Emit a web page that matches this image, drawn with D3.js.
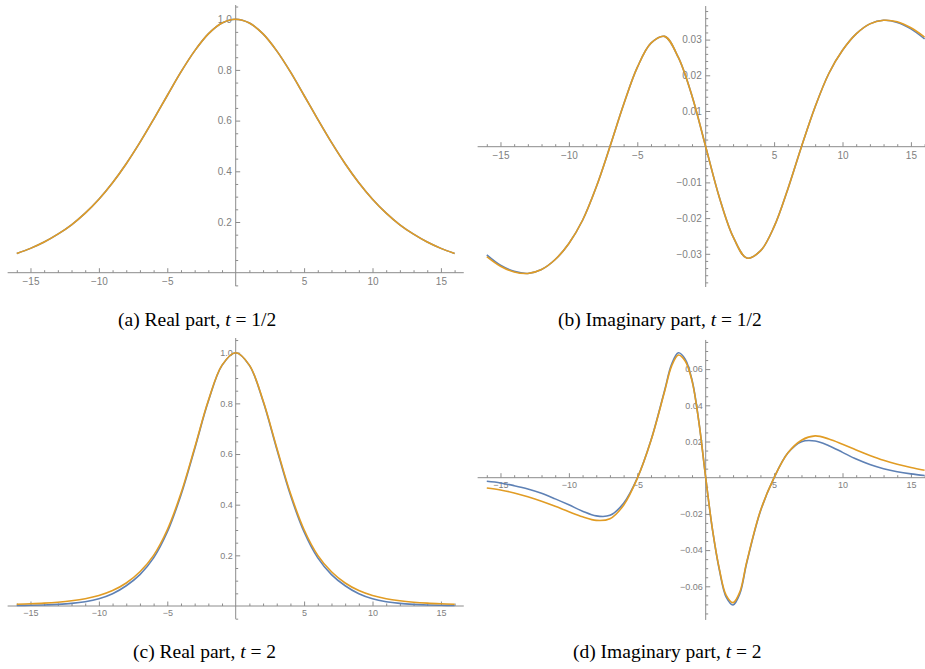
<!DOCTYPE html>
<html>
<head>
<meta charset="utf-8">
<script src="https://cdnjs.cloudflare.com/ajax/libs/d3/7.8.5/d3.min.js"></script>
<style>
  body { margin: 0; background: #fff; }
  .axis-line { stroke: #8c8c8c; stroke-width: 1; }
  .tick line { stroke: #8c8c8c; }
  .tick text { fill: #808080; font-family: 'Liberation Sans', Arial, sans-serif; }
  .curve { fill: none; stroke-width: 1.6; stroke-linejoin: round; }
  .caption { font-family: 'Liberation Serif', 'Times New Roman', serif; fill: #000; }
</style>
</head>
<body>
<svg id="fig" width="925" height="669"></svg>
<script>
// x grid used by panels a, b, c
var xGrid = [-16, -15, -14, -13, -12, -11, -10, -9, -8, -7, -6, -5, -4, -3, -2, -1, 0,
             1, 2, 3, 4, 5, 6, 7, 8, 9, 10, 11, 12, 13, 14, 15, 16];
// panel d has a steep middle, so it gets extra points near 0
var xGridD = [-16, -15, -14, -13, -12, -11, -10, -9, -8, -7, -6, -5, -4, -3,
              -2.5, -2, -1.5, -1, -0.5, 0, 0.5, 1, 1.5, 2, 2.5,
              3, 4, 5, 6, 7, 8, 9, 10, 11, 12, 13, 14, 15, 16];

// (a) real part, t = 1/2
var realHalfBlue = [0.076, 0.096, 0.121, 0.152, 0.189, 0.235, 0.290, 0.355, 0.430, 0.514, 0.605, 0.699, 0.792, 0.875, 0.942, 0.985, 1.000,
                    0.985, 0.942, 0.875, 0.792, 0.699, 0.605, 0.514, 0.430, 0.355, 0.290, 0.235, 0.189, 0.152, 0.121, 0.096, 0.076];
var realHalfOrange = [0.076, 0.096, 0.121, 0.152, 0.189, 0.235, 0.290, 0.355, 0.430, 0.514, 0.605, 0.699, 0.792, 0.875, 0.942, 0.985, 1.000,
                      0.985, 0.942, 0.875, 0.792, 0.699, 0.605, 0.514, 0.430, 0.355, 0.290, 0.235, 0.189, 0.152, 0.121, 0.096, 0.076];

// (b) imaginary part, t = 1/2
var imagHalfBlue = [-0.0303, -0.0332, -0.0349, -0.0355, -0.0344, -0.0316, -0.0271, -0.0206, -0.0113, 0.0000, 0.0118, 0.0222, 0.0290, 0.0309, 0.0250, 0.0142, 0.0000,
                    -0.0142, -0.0252, -0.0312, -0.0292, -0.0224, -0.0119, 0.0000, 0.0112, 0.0205, 0.0270, 0.0316, 0.0344, 0.0354, 0.0348, 0.0330, 0.0302];
var imagHalfOrange = [-0.0308, -0.0335, -0.0351, -0.0355, -0.0344, -0.0316, -0.0271, -0.0206, -0.0113, 0.0000, 0.0118, 0.0222, 0.0290, 0.0309, 0.0250, 0.0142, 0.0000,
                      -0.0142, -0.0252, -0.0312, -0.0292, -0.0224, -0.0119, 0.0000, 0.0112, 0.0205, 0.0270, 0.0316, 0.0344, 0.0354, 0.0350, 0.0333, 0.0307];

// (c) real part, t = 2
var realTwoBlue = [0.0019, 0.0028, 0.0042, 0.0065, 0.0103, 0.0170, 0.0286, 0.0485, 0.080, 0.124, 0.190, 0.292, 0.438, 0.620, 0.808, 0.950, 1.000,
                   0.950, 0.808, 0.620, 0.438, 0.292, 0.190, 0.124, 0.080, 0.0485, 0.0286, 0.0170, 0.0103, 0.0065, 0.0042, 0.0028, 0.0019];
var realTwoOrange = [0.0067, 0.0087, 0.0113, 0.0151, 0.0206, 0.0287, 0.0412, 0.0608, 0.0907, 0.135, 0.200, 0.301, 0.445, 0.625, 0.811, 0.951, 1.000,
                     0.951, 0.811, 0.625, 0.445, 0.301, 0.200, 0.135, 0.0907, 0.0608, 0.0412, 0.0287, 0.0206, 0.0151, 0.0113, 0.0087, 0.0067];

// (d) imaginary part, t = 2
var imagTwoBlue = [-0.0020, -0.0029, -0.0044, -0.0062, -0.0086, -0.0117, -0.0150, -0.0185, -0.0211, -0.0208, -0.0141, -0.0002, 0.0207, 0.0483,
                   0.0625, 0.0690, 0.0655, 0.0540, 0.0310, 0.0000, -0.0290, -0.0510, -0.0660, -0.0703, -0.0640,
                   -0.0470, -0.0185, 0.0000, 0.0136, 0.0199, 0.0203, 0.0177, 0.0140, 0.0103, 0.0073, 0.0050, 0.0033, 0.0021, 0.0012];
var imagTwoOrange = [-0.0057, -0.0068, -0.0084, -0.0105, -0.0130, -0.0158, -0.0188, -0.0216, -0.0236, -0.0227, -0.0152, -0.0004, 0.0205, 0.0478,
                     0.0615, 0.0678, 0.0645, 0.0535, 0.0308, 0.0000, -0.0288, -0.0505, -0.0650, -0.0690, -0.0630,
                     -0.0465, -0.0183, 0.0000, 0.0136, 0.0207, 0.0231, 0.0214, 0.0185, 0.0153, 0.0123, 0.0096, 0.0074, 0.0056, 0.0041];

// tick labels
var xTicks = [-15, -10, -5, 5, 10, 15];
var yTicksReal = [0.2, 0.4, 0.6, 0.8, 1.0];
var yTicksImagHalf = [-0.03, -0.02, -0.01, 0.01, 0.02, 0.03];
var yTicksImagTwo = [-0.06, -0.04, -0.02, 0.02, 0.04, 0.06];

var captions = [
    { label: '(a) Real part, ', t: '1/2' },
    { label: '(b) Imaginary part, ', t: '1/2' },
    { label: '(c) Real part, ', t: '2' },
    { label: '(d) Imaginary part, ', t: '2' }
];

var blue = '#5e81b5', orange = '#e19c24';

var svg = d3.select('#fig');

var panels = [
    { xs: xGrid, blue: realHalfBlue, orange: realHalfOrange,
      xRange: [16.8, 454.6], xExt: [-16.67, 16.67],
      yDomain: [0, 1], yRange: [272.7, 19.2], yExt: [-0.053, 1.056],
      yTicks: yTicksReal, yMinorStep: 0.05, yFmt: '.1f', font: 10, xPad: 5.5, yPad: 4,
      cap: captions[0], capX: 118, capY: 326 },
    { xs: xGrid, blue: imagHalfBlue, orange: imagHalfOrange,
      xRange: [486.8, 924.6], xExt: [-16.67, 17],
      yDomain: [-0.03, 0.03], yRange: [253.8, 39.6], yExt: [-0.0393, 0.0394],
      yTicks: yTicksImagHalf, yMinorStep: 0.002, yFmt: '.2f', font: 10, xPad: 5.5, yPad: 4,
      cap: captions[1], capX: 558, capY: 326 },
    { xs: xGrid, blue: realTwoBlue, orange: realTwoOrange,
      xRange: [16.8, 454.6], xExt: [-16.67, 16.67],
      yDomain: [0, 1], yRange: [606, 352.7], yExt: [-0.051, 1.058],
      yTicks: yTicksReal, yMinorStep: 0.05, yFmt: '.1f', font: 9, xPad: 4, yPad: 3,
      cap: captions[2], capX: 133, capY: 658 },
    { xs: xGridD, blue: imagTwoBlue, orange: imagTwoOrange,
      xRange: [486.8, 924.6], xExt: [-16.67, 17],
      yDomain: [-0.06, 0.06], yRange: [586.3, 369.1], yExt: [-0.0786, 0.0761],
      yTicks: yTicksImagTwo, yMinorStep: 0.005, yFmt: '.2f', font: 9, xPad: 4, yPad: 3,
      cap: captions[3], capX: 573, capY: 658 }
];

panels.forEach(drawPanel);

function drawPanel(p) {
    var x = d3.scaleLinear().domain([-16, 16]).range(p.xRange);
    var y = d3.scaleLinear().domain(p.yDomain).range(p.yRange);
    var g = svg.append('g');

    // minor ticks (every unit on x, small steps on y)
    var xMinor = d3.range(-16, 17).filter(d => d % 5 !== 0);
    var yMinor = d3.range(Math.ceil(p.yExt[0] / p.yMinorStep), Math.floor(p.yExt[1] / p.yMinorStep) + 1)
        .map(k => +(k * p.yMinorStep).toFixed(4))
        .filter(d => d !== 0 && p.yTicks.indexOf(d) < 0);

    // axis lines cross at the origin
    g.append('line').attr('class', 'axis-line')
        .attr('x1', x(p.xExt[0])).attr('x2', x(p.xExt[1]))
        .attr('y1', y(0)).attr('y2', y(0));
    g.append('line').attr('class', 'axis-line')
        .attr('x1', x(0)).attr('x2', x(0))
        .attr('y1', y(p.yExt[0])).attr('y2', y(p.yExt[1]));

    // x axis
    g.append('g')
        .attr('transform', 'translate(0,' + y(0) + ')')
        .call(d3.axisBottom(x).tickValues(xMinor).tickSize(-2.5).tickFormat(''))
        .call(a => a.select('.domain').remove());
    g.append('g')
        .attr('transform', 'translate(0,' + y(0) + ')')
        .call(d3.axisBottom(x).tickValues(xTicks).tickSize(-4.5).tickPadding(p.xPad).tickFormat(d3.format('d')))
        .call(a => a.select('.domain').remove())
        .call(a => a.selectAll('text').attr('font-size', p.font));

    // y axis
    g.append('g')
        .attr('transform', 'translate(' + x(0) + ',0)')
        .call(d3.axisLeft(y).tickValues(yMinor).tickSize(-2.5).tickFormat(''))
        .call(a => a.select('.domain').remove());
    g.append('g')
        .attr('transform', 'translate(' + x(0) + ',0)')
        .call(d3.axisLeft(y).tickValues(p.yTicks).tickSize(-4.5).tickPadding(p.yPad).tickFormat(d3.format(p.yFmt)))
        .call(a => a.select('.domain').remove())
        .call(a => a.selectAll('text').attr('font-size', p.font));

    g.selectAll('.tick text').attr('font-family', null);

    var line = d3.line()
        .x(d => x(d[0]))
        .y(d => y(d[1]))
        .curve(d3.curveCatmullRom.alpha(0.5));

    g.append('path').attr('class', 'curve')
        .attr('stroke', blue)
        .attr('d', line(d3.zip(p.xs, p.blue)));
    g.append('path').attr('class', 'curve')
        .attr('stroke', orange)
        .attr('d', line(d3.zip(p.xs, p.orange)));

    // caption under the panel
    var cap = svg.append('text')
        .attr('class', 'caption')
        .attr('x', p.capX)
        .attr('y', p.capY)
        .attr('font-size', 19.5);
    cap.append('tspan').text(p.cap.label);
    cap.append('tspan').attr('font-style', 'italic').text('t');
    cap.append('tspan').text(' = ' + p.cap.t);
}
</script>
</body>
</html>
